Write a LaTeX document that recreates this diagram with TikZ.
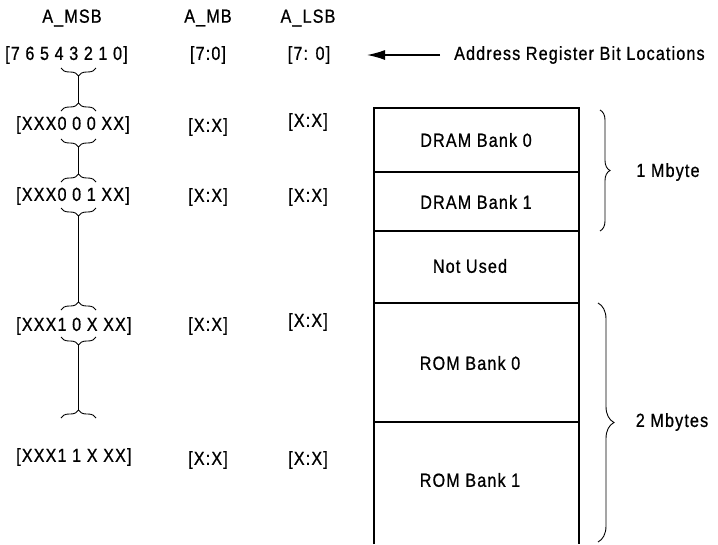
\documentclass[tikz,border=0pt]{standalone}
\usepackage{fontspec}
\setmainfont[FakeStretch=0.85,LetterSpace=6,FakeBold=0.8]{Liberation Sans}
\usetikzlibrary{decorations.pathreplacing,arrows.meta}
\begin{document}
\begin{tikzpicture}[x=1pt,y=-1pt,
  lbl/.style={inner sep=0pt,font=\fontsize{19pt}{21pt}\selectfont},
  lblw/.style={lbl,anchor=west},
  smallbrace/.style={decorate,decoration={brace,amplitude=8pt},line width=0.9pt},
  bigbrace/.style={decorate,decoration={brace,amplitude=#1},line width=0.9pt},
  link/.style={line width=1.1pt},
  wall/.style={line width=2.6pt},
  pointer/.style={line width=1.4pt,-{Latex[length=18pt,width=10pt]}}]
\useasboundingbox (0,0) rectangle (718,544);
% headers
\node[lbl] (hmsb) at (72,18) {A\_MSB};
\node[lbl] (hmb)  at (208,18) {A\_MB};
\node[lbl] (hlsb) at (308,18) {A\_LSB};
% bit locations
\node[lblw] (bmsb) at (5,55) {[7 6 5 4 3 2 1 0]};
\node[lbl] (bmb)  at (208,55) {[7:0]};
\node[lbl] (blsb) at (309,55) {[7: 0]};
\node[lblw] (addr) at (454,55) {Address Register Bit Locations};
\draw[pointer] (addr.west) ++(-14,0) coordinate (astart) -- (367,55) coordinate (aend);
% rows
\node[lblw] (r1) at (16,125) {[XXX0 0 0 XX]};
\node[lbl]  (r1b) at (208,127) {[X:X]};
\node[lbl]  (r1c) at (308,122) {[X:X]};
\node[lblw] (r2) at (16,196) {[XXX0 0 1 XX]};
\node[lbl]  (r2b) at (208,197) {[X:X]};
\node[lbl]  (r2c) at (308,197) {[X:X]};
\node[lblw] (r3) at (16,326) {[XXX1 0 X XX]};
\node[lbl]  (r3b) at (208,326) {[X:X]};
\node[lbl]  (r3c) at (308,322) {[X:X]};
\node[lblw] (r4) at (16,457) {[XXX1 1 X XX]};
\node[lbl]  (r4b) at (208,460) {[X:X]};
\node[lbl]  (r4c) at (308,460) {[X:X]};
% left braces and links
\draw[smallbrace] (96,68) -- (61,68);
\draw[smallbrace] (61,111) -- (96,111);
\coordinate (t0) at (78.5,76);
\coordinate (t1) at (78.5,103);
\draw[link] (t0) -- (t1);
\draw[smallbrace] (96,139) -- (61,139);
\draw[smallbrace] (61,182) -- (96,182);
\coordinate (t2) at (78.5,147);
\coordinate (t3) at (78.5,174);
\draw[link] (t2) -- (t3);
\draw[smallbrace] (96,208) -- (61,208);
\draw[smallbrace] (61,310) -- (96,310);
\coordinate (t4) at (78.5,216);
\coordinate (t5) at (78.5,302);
\draw[link] (t4) -- (t5);
\draw[smallbrace] (96,337) -- (61,337);
\draw[smallbrace] (61,418) -- (96,418);
\coordinate (t6) at (78.5,345);
\coordinate (t7) at (78.5,410);
\draw[link] (t6) -- (t7);
% memory map
\draw[wall] (374,544) -- (374,108) -- (579,108) -- (579,544);
\draw[wall] (374,172) -- (579,172);
\draw[wall] (374,231) -- (579,231);
\draw[wall] (374,303) -- (579,303);
\draw[wall] (374,422) -- (579,422);
\node[lbl] (d0) at (476,140) {DRAM Bank 0};
\node[lbl] (d1) at (476,202) {DRAM Bank 1};
\node[lbl] (nu) at (470,266) {Not Used};
\node[lbl] (m0) at (470,363) {ROM Bank 0};
\node[lbl] (m1) at (470,480) {ROM Bank 1};
% right braces
\draw[bigbrace=10pt] (600,110) -- (600,231);
\draw[bigbrace=16pt] (598,303) -- (598,542);
\node[lbl] (mb1) at (668,172) {1 Mbyte};
\node[lbl] (mb2) at (672,422) {2 Mbytes};
\end{tikzpicture}
\end{document}
